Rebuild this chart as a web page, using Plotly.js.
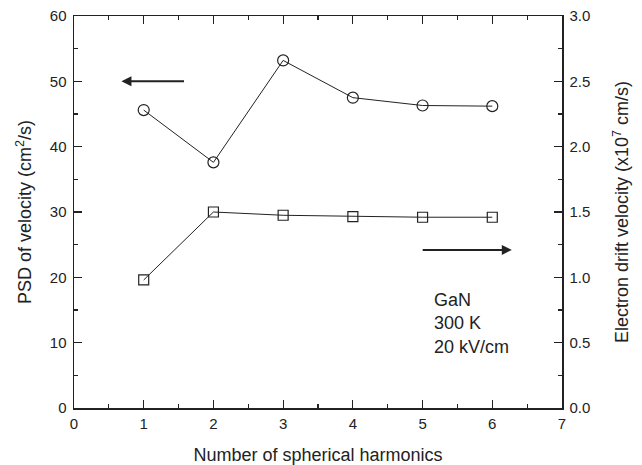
<!DOCTYPE html>
<html>
<head>
<meta charset="utf-8">
<script src="https://cdn.plot.ly/plotly-3.0.1.min.js"></script>
<style>html,body{margin:0;padding:0;background:#fff;}#chart{width:642px;height:465px;}</style>
</head>
<body>
<div id="chart"></div>
<script>
// Number of spherical harmonics used in the expansion
const harmonics = [1, 2, 3, 4, 5, 6];
// Power spectral density of velocity, cm^2/s (left axis)
const psdVelocity = [45.6, 37.6, 53.2, 47.5, 46.3, 46.2];
// Electron drift velocity, x10^7 cm/s (right axis)
const driftVelocity = [0.98, 1.50, 1.475, 1.465, 1.46, 1.46];

const xTicks = [0, 1, 2, 3, 4, 5, 6, 7];
const leftTicks = [0, 10, 20, 30, 40, 50, 60];
const rightTicks = [0, 0.5, 1.0, 1.5, 2.0, 2.5, 3.0];
const rightTickText = ['0.0', '0.5', '1.0', '1.5', '2.0', '2.5', '3.0'];

const font = 'Liberation Sans, Arial, sans-serif';
const ink = '#222';

const traces = [
  {
    x: harmonics, y: psdVelocity, type: 'scatter', mode: 'lines+markers',
    line: {color: ink, width: 1},
    marker: {symbol: 'circle-open', size: 11, color: ink, line: {width: 1.2}},
    cliponaxis: false, showlegend: false
  },
  {
    x: harmonics, y: driftVelocity, type: 'scatter', mode: 'lines+markers', yaxis: 'y2',
    line: {color: ink, width: 1},
    marker: {symbol: 'square-open', size: 10, color: ink, line: {width: 1.2}},
    cliponaxis: false, showlegend: false
  }
];

const axisCommon = {
  showgrid: false, zeroline: false, showline: true, linecolor: ink, linewidth: 1.5,
  ticks: 'inside', ticklen: 8, tickwidth: 1.2, tickcolor: ink,
  ticklabelstandoff: 3,
  tickfont: {family: font, size: 15, color: ink}
};

const layout = {
  width: 642, height: 465,
  margin: {l: 74, r: 80, t: 16, b: 57},
  paper_bgcolor: '#fff', plot_bgcolor: '#fff',
  font: {family: font, color: ink},
  xaxis: Object.assign({}, axisCommon, {
    range: [0, 7], tickvals: xTicks, mirror: 'ticks', ticklabelstandoff: 1,
    minor: {dtick: 0.5, ticks: 'inside', ticklen: 4, tickcolor: ink},
    title: {text: 'Number of spherical harmonics', font: {family: font, size: 18, color: ink}, standoff: 18}
  }),
  yaxis: Object.assign({}, axisCommon, {
    range: [0, 60], tickvals: leftTicks,
    minor: {dtick: 5, ticks: 'inside', ticklen: 4, tickcolor: ink},
    title: {text: 'PSD of velocity (cm<sup>2</sup>/s)', font: {family: font, size: 18, color: ink}, standoff: 13}
  }),
  yaxis2: Object.assign({}, axisCommon, {
    range: [0, 3], overlaying: 'y', side: 'right',
    tickvals: rightTicks, ticktext: rightTickText,
    minor: {dtick: 0.25, ticks: 'inside', ticklen: 4, tickcolor: ink},
    title: {text: 'Electron drift velocity (x10<sup>7</sup> cm/s)', font: {family: font, size: 18, color: ink}, standoff: 26}
  }),
  annotations: [
    {x: 0.68, y: 50, ax: 1.6, ay: 50, xref: 'x', yref: 'y', axref: 'x', ayref: 'y',
     showarrow: true, arrowhead: 2, arrowsize: 1, arrowwidth: 2, arrowcolor: ink, text: ''},
    {x: 6.28, y: 24.2, ax: 4.98, ay: 24.2, xref: 'x', yref: 'y', axref: 'x', ayref: 'y',
     showarrow: true, arrowhead: 2, arrowsize: 1, arrowwidth: 2, arrowcolor: ink, text: ''},
    {x: 5.13, y: 12.9, xref: 'x', yref: 'y', xanchor: 'left', yanchor: 'middle', align: 'left',
     showarrow: false, text: 'GaN<br>300 K<br>20 kV/cm',
     font: {family: font, size: 18, color: ink}}
  ]
};

Plotly.newPlot('chart', traces, layout, {displayModeBar: false, staticPlot: true});
</script>
</body>
</html>
